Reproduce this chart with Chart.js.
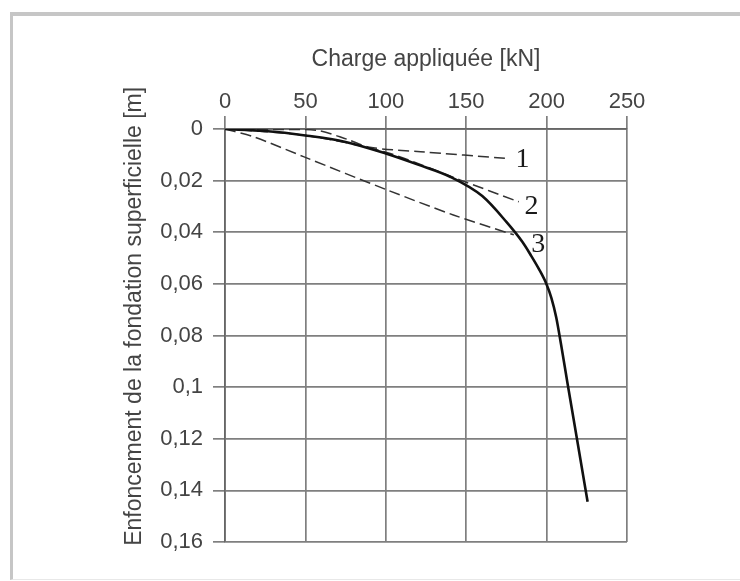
<!DOCTYPE html>
<html>
<head>
<meta charset="utf-8">
<script src="https://cdn.jsdelivr.net/npm/chart.js@4"></script>
<style>
  body { margin: 0; background: #fff; }
  #frame {
    position: absolute; left: 10px; top: 12px; width: 740px; height: 563px;
    border-left: 3px solid #c6c6c6; border-top: 4px solid #c6c6c6; border-bottom: 1px solid #e8e8e8;
  }
  #chart { position: absolute; left: 0; top: 0; }
</style>
</head>
<body>
<div id="frame"></div>
<canvas id="chart" width="740" height="581"></canvas>
<script>
// measured curve: load [kN] vs settlement [m]
const mainLoad = [0, 25, 50, 75, 100, 120, 140, 160, 175, 185, 190, 195, 200, 203, 206, 209, 213, 219, 225.5];
const mainDepth = [0, 0.0008, 0.0025, 0.005, 0.0095, 0.0138, 0.0185, 0.026, 0.036, 0.0438, 0.0487, 0.054, 0.0602, 0.0655, 0.073, 0.0835, 0.0985, 0.1205, 0.1444];

// dashed curves 1, 2, 3
const load1 = [0, 30, 57, 76, 90, 121.6, 175.6];
const depth1 = [0, 0.0002, 0.0005, 0.004, 0.0071, 0.0088, 0.0114];
const load2 = [0, 50, 100, 146.5, 182.7];
const depth2 = [0, 0.0025, 0.009, 0.0198, 0.0282];
const load3 = [0, 17.7, 48.8, 100.8, 142, 179.6];
const depth3 = [0, 0.003, 0.0107, 0.0236, 0.0333, 0.041];

// curve numbers
const labelText = ["1", "2", "3"];
const labelLoad = [185, 190.6, 194.8];
const labelDepth = [0.012, 0.030, 0.0449];

const toPoints = (xs, ys) => xs.map((x, i) => ({ x: x, y: ys[i] }));

const gridColor = "#7f7f7f";
const textColor = "#444";

const curveLabels = {
  id: "curveLabels",
  afterDatasetsDraw(chart) {
    const { ctx, scales } = chart;
    ctx.save();
    ctx.fillStyle = "#1a1a1a";
    ctx.font = '28px "Liberation Serif", "Times New Roman", serif';
    ctx.textAlign = "center";
    ctx.textBaseline = "middle";
    labelText.forEach((t, i) => {
      ctx.fillText(t, scales.x.getPixelForValue(labelLoad[i]), scales.y.getPixelForValue(labelDepth[i]));
    });
    ctx.restore();
  },
};

const dashed = (data) => ({
  data: data,
  showLine: true,
  borderColor: "#333",
  borderWidth: 1.5,
  borderDash: [11, 5],
  pointRadius: 0,
  tension: 0.3,
});

new Chart(document.getElementById("chart"), {
  type: "scatter",
  data: {
    datasets: [
      {
        data: toPoints(mainLoad, mainDepth),
        showLine: true,
        borderColor: "#111",
        borderWidth: 2.6,
        pointRadius: 0,
        cubicInterpolationMode: "monotone",
      },
      dashed(toPoints(load1, depth1)),
      dashed(toPoints(load2, depth2)),
      dashed(toPoints(load3, depth3)),
    ],
  },
  options: {
    responsive: false,
    animation: false,
    layout: { padding: { left: 0, top: 0, right: 113, bottom: 39 } },
    plugins: { legend: { display: false }, tooltip: { enabled: false } },
    scales: {
      x: {
        type: "linear",
        position: "top",
        min: 0,
        max: 250,
        afterFit: (scale) => { scale.height = 129; },
        ticks: {
          stepSize: 50,
          padding: 1,
          color: textColor,
          font: { family: '"Liberation Sans", Arial, sans-serif', size: 22 },
        },
        grid: { color: gridColor, lineWidth: 1.7, tickLength: 13 },
        border: { color: "#666", width: 1.7 },
        title: {
          display: true,
          text: "Charge appliquée [kN]",
          color: textColor,
          padding: { top: 46, bottom: 0 },
          font: { family: '"Liberation Sans", Arial, sans-serif', size: 23 },
        },
      },
      y: {
        type: "linear",
        reverse: true,
        min: 0,
        max: 0.16,
        afterFit: (scale) => { scale.width = 225; },
        ticks: {
          stepSize: 0.02,
          padding: 10,
          color: textColor,
          font: { family: '"Liberation Sans", Arial, sans-serif', size: 22 },
          callback: (v) => String(+v.toFixed(2)).replace(".", ","),
        },
        grid: { color: gridColor, lineWidth: 1.7, tickLength: 12 },
        border: { color: "#666", width: 1.7 },
        title: {
          display: true,
          text: "      Enfoncement de la fondation superficielle [m]",
          color: textColor,
          padding: { top: 121, bottom: 0 },
          font: { family: '"Liberation Sans", Arial, sans-serif', size: 23 },
        },
      },
    },
  },
  plugins: [curveLabels],
});
</script>
</body>
</html>
